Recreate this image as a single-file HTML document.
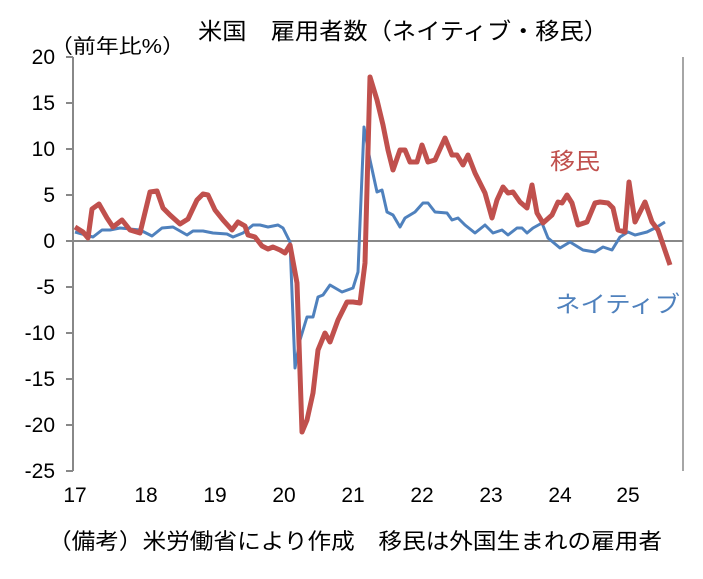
<!DOCTYPE html>
<html><head><meta charset="utf-8"><style>
body{margin:0;background:#fff;}
svg text{font-family:"Liberation Sans","Noto Sans CJK JP",sans-serif;}
</style></head><body>
<svg width="703" height="574" viewBox="0 0 703 574" xmlns="http://www.w3.org/2000/svg">
<rect width="703" height="574" fill="#fff"/>
<text x="198" y="39" font-size="23" textLength="410" lengthAdjust="spacingAndGlyphs" fill="#000">米国　雇用者数（ネイティブ・移民）</text>
<text x="50" y="53" font-size="20" textLength="135" lengthAdjust="spacingAndGlyphs" fill="#000">（前年比%）</text>
<line x1="683" y1="57" x2="683" y2="471" stroke="#888" stroke-width="1.5"/>
<line x1="73" y1="57" x2="73" y2="471" stroke="#888" stroke-width="2"/>
<g stroke="#888" stroke-width="2">
<line x1="66" y1="57" x2="73" y2="57"/><line x1="66" y1="103" x2="73" y2="103"/><line x1="66" y1="149" x2="73" y2="149"/><line x1="66" y1="195" x2="73" y2="195"/><line x1="66" y1="287" x2="73" y2="287"/><line x1="66" y1="333" x2="73" y2="333"/><line x1="66" y1="379" x2="73" y2="379"/><line x1="66" y1="425" x2="73" y2="425"/><line x1="66" y1="471" x2="73" y2="471"/>
</g>
<line x1="66" y1="241" x2="683" y2="241" stroke="#888" stroke-width="2"/>
<g font-size="21" text-anchor="end" fill="#000">
<text x="55" y="64">20</text><text x="55" y="110">15</text><text x="55" y="156">10</text><text x="55" y="202">5</text><text x="55" y="248">0</text><text x="55" y="294">-5</text><text x="55" y="340">-10</text><text x="55" y="386">-15</text><text x="55" y="432">-20</text><text x="55" y="478">-25</text>
</g>
<g font-size="21" text-anchor="middle" fill="#000">
<text x="75" y="502">17</text><text x="146" y="502">18</text><text x="215" y="502">19</text><text x="284" y="502">20</text><text x="353" y="502">21</text><text x="422" y="502">22</text><text x="491" y="502">23</text><text x="560" y="502">24</text><text x="628" y="502">25</text>
</g>
<polyline fill="none" stroke="#4f81bd" stroke-width="3" stroke-linejoin="round" points="75,232 93,237 102,230 110,230 120,228 140,230 152,236 162,228 173,227 187,235 193,231 203,231 213,233 227,234 233,237 243,233 253,225 260,225 268,227 278,225 283,228 290,242 295,368 300,340 307,317 313,317 318,297 323,295 330,285 342,292 353,288 358,272 364,127 370,160 377,192 382,190 387,212 393,215 400,227 405,218 415,212 423,203 428,203 435,212 447,213 452,220 458,218 465,225 475,233 485,225 493,233 502,230 508,235 517,228 522,228 527,233 533,228 542,223 548,238 560,248 570,242 583,250 595,252 603,247 612,250 620,237 628,232 635,235 647,232 657,227 665,222"/>
<polyline fill="none" stroke="#c0504d" stroke-width="5" stroke-linejoin="round" points="75,227 83,232 88,238 92,209 99,204 107,218 113,227 122,220 130,230 140,233 150,192 157,191 163,208 170,215 180,224 188,219 197,200 203,194 208,195 215,210 223,220 232,230 238,222 245,226 248,235 255,237 262,246 268,249 273,247 280,250 285,253 290,245 297,283 302,432 307,420 313,393 318,350 325,333 330,342 338,320 347,302 353,302 360,303 365,263 370,77 377,100 383,125 388,150 393,170 400,150 405,150 410,162 417,162 422,145 428,162 435,160 445,138 452,155 457,155 463,165 468,155 475,173 485,193 492,218 497,200 503,187 508,193 513,192 520,202 527,208 532,185 537,213 543,223 552,215 558,202 562,203 567,195 572,203 578,225 587,222 595,203 600,202 608,203 613,208 618,230 625,232 629,182 635,222 640,212 645,202 652,222 658,230 670,265"/>
<text x="550" y="169" font-size="23" textLength="50" lengthAdjust="spacingAndGlyphs" fill="#c0504d">移民</text>
<text x="555" y="312" font-size="23" textLength="125" lengthAdjust="spacingAndGlyphs" fill="#4f81bd">ネイティブ</text>
<text x="48" y="549" font-size="22" textLength="614" lengthAdjust="spacingAndGlyphs" fill="#000">（備考）米労働省により作成　移民は外国生まれの雇用者</text>
</svg>
</body></html>
